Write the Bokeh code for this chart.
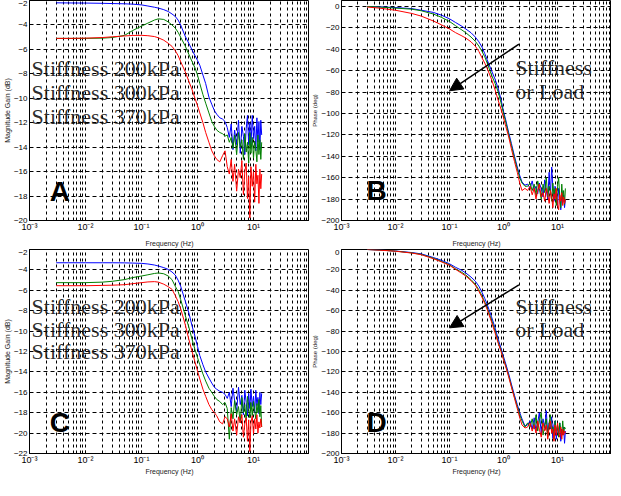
from bokeh.plotting import figure
from bokeh.models import Range1d, FixedTicker, CustomJSTickFormatter, Label, Arrow, NormalHead
from bokeh.layouts import row, column
from bokeh.embed import file_html
from bokeh.resources import INLINE

freq = [0.003, 0.005, 0.01, 0.02, 0.03, 0.05, 0.07, 0.1, 0.13, 0.17, 0.2, 0.25, 0.3, 0.35,
        0.4, 0.45, 0.5, 0.6, 0.7, 0.8, 0.9, 1.0, 1.1, 1.25, 1.4, 1.6, 1.8, 2.0,
        2.2, 2.5, 2.8, 3.1, 3.4, 3.7, 4.0, 4.3, 4.6, 5.0, 5.4, 5.8, 6.2, 6.6, 7.0, 7.4,
        7.8, 8.2, 8.6, 9.0, 9.5, 10.0, 10.5, 11.0, 11.5, 12.0, 12.5, 13.0, 13.5, 14.0]

labels = ["Stiffness 200kPa", "Stiffness 300kPa", "Stiffness 370kPa"]
colors = ["#0000ff", "#008000", "#ff0000"]

# Panel A: magnitude (dB)
mag_a_200 = [-2.19, -2.2, -2.21, -2.23, -2.25, -2.27, -2.3, -2.36, -2.45, -2.55, -2.62, -2.75, -2.9, -3.1,
             -3.3, -3.6, -4.0, -4.9, -5.5, -6.05, -6.5, -6.9, -7.3, -8.1, -8.8, -9.9, -10.5, -11.0,
             -11.3, -11.6, -11.7, -11.9, -12.4, -13.2, -12.1, -14.2, -12.6, -13.8, -11.8, -14.5, -12.3, -13.1, -14.6, -12.5,
             -11.4, -13.8, -12.0, -14.0, -11.4, -13.3, -12.3, -14.3, -11.6, -13.6, -11.9, -14.2, -11.8, -13.0]
mag_a_300 = [-5.1, -5.1, -5.1, -5.08, -5.03, -4.85, -4.45, -4.1, -3.85, -3.6, -3.5, -3.55, -3.75, -4.0,
             -4.25, -4.6, -5.0, -5.7, -6.4, -7.0, -7.5, -8.1, -8.8, -9.7, -10.4, -11.2, -11.9, -12.3,
             -12.6, -12.8, -12.9, -13.1, -13.0, -13.6, -13.2, -14.1, -13.0, -14.6, -12.8, -14.0, -13.4, -15.0, -12.9, -14.4,
             -13.6, -15.3, -12.8, -14.5, -13.2, -14.9, -13.5, -14.2, -15.2, -13.0, -14.6, -13.4, -15.0, -13.6]
mag_a_370 = [-5.1, -5.1, -5.08, -5.03, -4.97, -4.9, -4.86, -4.85, -4.88, -4.95, -5.05, -5.25, -5.5, -5.75,
             -6.1, -6.5, -7.0, -7.8, -8.6, -9.3, -10.0, -10.6, -11.2, -12.0, -12.8, -13.6, -14.3, -14.7,
             -15.0, -15.2, -14.7, -14.3, -15.6, -16.2, -15.0, -16.8, -15.4, -17.6, -15.8, -16.5, -15.1, -17.9, -16.0, -15.3,
             -18.2, -16.4, -19.8, -15.6, -17.2, -16.0, -18.5, -15.4, -17.0, -16.3, -18.6, -15.8, -17.4, -16.2]

# Panel B: phase (deg)
phase_b_200 = [0, -0.3, -1, -2, -3.5, -5.5, -8, -11.5, -15, -18.5, -21, -24.5, -28.5, -33,
               -38, -44, -50, -60, -68, -77, -87, -98, -106, -118, -128, -140, -150, -158,
               -164, -167, -166, -170, -163, -172, -168, -175, -165, -170, -178, -162, -172, -180, -155, -176,
               -150, -170, -182, -168, -175, -186, -170, -178, -190, -172, -183, -176, -188, -180]
phase_b_300 = [0, -0.5, -1.5, -2.5, -4, -7, -10, -14, -18, -22, -24.5, -28.5, -32.5, -37,
               -42, -47, -53, -64, -72, -80, -90, -100, -108, -120, -130, -142, -152, -160,
               -165, -168, -168, -165, -172, -166, -176, -163, -170, -180, -166, -174, -160, -178, -168, -172,
               -182, -165, -176, -170, -186, -168, -160, -178, -188, -166, -180, -172, -185, -170]
phase_b_370 = [-0.5, -1.5, -3.5, -6.5, -9, -13.5, -17, -21, -24.5, -27.5, -29.5, -33, -37, -42,
               -48, -53, -58, -68, -78, -88, -96, -104, -112, -122, -133, -145, -155, -165,
               -172, -170, -172, -168, -176, -170, -180, -172, -166, -178, -174, -182, -170, -176, -184, -172,
               -178, -188, -175, -180, -170, -185, -190, -176, -182, -174, -186, -178, -184, -180]

# Panel C: magnitude (dB)
mag_c_200 = [-3.3, -3.3, -3.3, -3.3, -3.3, -3.31, -3.33, -3.36, -3.42, -3.52, -3.62, -3.78, -3.95, -4.2,
             -4.5, -5.0, -5.6, -7.0, -8.2, -9.5, -10.5, -11.5, -12.4, -13.3, -14.0, -14.6, -15.1, -15.5,
             -15.7, -15.9, -16.0, -16.2, -16.6, -16.0, -17.4, -15.6, -16.8, -17.9, -15.5, -17.2, -16.3, -18.2, -15.8, -17.0,
             -18.3, -16.1, -17.6, -15.7, -17.4, -16.4, -18.0, -15.8, -17.3, -16.5, -18.1, -16.0, -17.2, -16.1]
mag_c_300 = [-5.25, -5.25, -5.25, -5.2, -5.12, -4.95, -4.75, -4.6, -4.48, -4.35, -4.3, -4.38, -4.6, -4.95,
             -5.6, -6.1, -6.9, -8.4, -9.6, -10.8, -11.8, -12.6, -13.3, -14.2, -14.9, -15.6, -16.0, -16.4,
             -16.7, -16.9, -17.2, -17.0, -17.6, -20.6, -17.5, -18.6, -16.8, -18.2, -17.4, -19.0, -16.5, -18.0, -17.2, -18.8,
             -16.4, -17.6, -18.5, -17.0, -18.3, -16.9, -17.8, -18.6, -17.1, -18.0, -16.7, -18.4, -17.3, -19.4]
mag_c_370 = [-5.55, -5.55, -5.55, -5.52, -5.5, -5.45, -5.35, -5.25, -5.18, -5.15, -5.2, -5.4, -5.65, -5.9,
             -6.5, -7.1, -7.8, -9.3, -10.8, -12.0, -13.0, -13.9, -14.7, -15.7, -16.4, -17.2, -17.7, -18.0,
             -18.3, -18.9, -19.1, -18.4, -18.6, -19.4, -18.1, -19.8, -18.6, -20.2, -18.4, -19.0, -18.2, -20.4, -19.1, -18.5,
             -20.8, -18.7, -21.8, -19.0, -18.3, -20.1, -18.6, -19.6, -18.2, -20.0, -18.9, -19.5, -18.6, -19.4]

# Panel D: phase (deg)
phase_d_200 = [0, -0.5, -1.5, -3, -4.3, -7.8, -10.5, -14, -17.5, -20.5, -23, -27, -31, -36,
               -42, -48, -54, -66, -77, -88, -97, -105, -112, -122, -132, -143, -152, -160,
               -166, -173, -172, -168, -176, -165, -178, -170, -160, -180, -166, -175, -158, -182, -170, -176,
               -164, -185, -172, -168, -186, -174, -180, -170, -188, -176, -182, -174, -190, -178]
phase_d_300 = [0, -0.5, -1.6, -3.3, -4.8, -8.5, -11.5, -15, -19, -22.5, -25, -29.5, -34, -39.5,
               -45.5, -51.5, -57.5, -69, -80, -91, -99, -107, -114, -124, -134, -145, -154, -162,
               -168, -174, -170, -174, -166, -176, -162, -178, -168, -160, -182, -172, -166, -184, -170, -162,
               -180, -174, -186, -168, -178, -172, -184, -170, -176, -182, -168, -180, -174, -176]
phase_d_370 = [0, -0.6, -1.7, -3.5, -5.1, -9, -12, -15.5, -19.5, -23.5, -26, -30.5, -35, -41,
               -47, -53, -59, -71, -82, -92, -100, -108, -115, -125, -135, -146, -156, -165,
               -172, -175, -174, -170, -178, -172, -180, -168, -176, -184, -170, -178, -172, -186, -174, -168,
               -180, -176, -188, -172, -182, -170, -178, -184, -174, -186, -176, -182, -178, -180]

x_major = [1e-3, 1e-2, 1e-1, 1e0, 1e1, 1e2]
x_minor = [k * 10.0 ** e for e in range(-3, 2) for k in range(2, 10)]

FMT = CustomJSTickFormatter(code="""
const e = Math.round(Math.log10(tick));
if (e >= 2) { return ""; }
const sup = {"-": "\u207b", "0": "\u2070", "1": "\u00b9", "2": "\u00b2", "3": "\u00b3"};
return "10" + String(e).split("").map(c => sup[c]).join("");
""")

SANS = "Liberation Sans"
SERIF = "Liberation Serif"


def panel(fw, fh, yr, yticks, bl, ylabel, xlabel, xlabel_standoff):
    p = figure(frame_width=fw, frame_height=fh, x_axis_type="log",
               x_range=Range1d(1e-3, 1e2), y_range=Range1d(*yr),
               output_backend="svg", toolbar_location=None,
               min_border_left=bl, min_border_top=0, min_border_bottom=0, min_border_right=0)
    p.outline_line_color = "black"
    p.outline_line_alpha = 1
    p.outline_line_width = 1
    p.background_fill_color = "white"
    p.border_fill_color = "white"
    p.xaxis.ticker = FixedTicker(ticks=x_major, minor_ticks=x_minor)
    p.xaxis.formatter = FMT
    p.yaxis.ticker = FixedTicker(ticks=yticks)
    for ax in (p.xaxis[0], p.yaxis[0]):
        ax.major_tick_in = 3
        ax.major_tick_out = 0
        ax.minor_tick_in = 2
        ax.minor_tick_out = 0
        ax.major_label_standoff = 2
        ax.axis_line_color = "black"
        ax.major_tick_line_color = "black"
        ax.major_label_text_font = SANS
        ax.major_label_text_color = "black"
        ax.axis_label_text_font = SANS
        ax.axis_label_text_font_style = "normal"
        ax.axis_label_text_font_size = "7px"
        ax.axis_label_text_color = "#222"
        ax.axis_label_standoff = 0
    p.xaxis.major_label_standoff = 1
    p.xaxis.axis_label_standoff = xlabel_standoff
    p.yaxis.minor_tick_line_color = None
    p.xaxis.major_label_text_font_size = "9px"
    p.yaxis.major_label_text_font_size = "8px"
    p.xaxis.axis_label = xlabel
    p.yaxis.axis_label = ylabel
    p.xgrid.grid_line_color = "black"
    p.xgrid.grid_line_alpha = 1
    p.xgrid.grid_line_dash = "3 3"
    p.xgrid.minor_grid_line_color = "black"
    p.xgrid.minor_grid_line_alpha = 1
    p.xgrid.minor_grid_line_dash = "3 3"
    p.ygrid.grid_line_color = "black"
    p.ygrid.grid_line_alpha = 1
    p.ygrid.grid_line_dash = "4 3"
    return p


def letter(p, text, x, y):
    p.add_layout(Label(x=x, y=y, text=text, text_font=SANS, text_font_style="bold",
                       text_font_size="28px", text_color="black", text_baseline="middle"))


def stiff_labels(p, ys):
    for t, y in zip(labels, ys):
        p.add_layout(Label(x=0.00109, y=y, text=t, text_font=SERIF, text_font_size="22px",
                           text_color="#111", text_alpha=0.9, text_baseline="middle"))


def arrow_note(p, y1, y2, ys, ye):
    p.add_layout(Label(x=1.65, y=y1, text="Stiffness", text_font=SERIF, text_font_size="22px",
                       text_color="#111", text_alpha=0.9, text_baseline="middle"))
    p.add_layout(Label(x=1.65, y=y2, text="or Load", text_font=SERIF, text_font_size="22px",
                       text_color="#111", text_alpha=0.9, text_baseline="middle"))
    p.add_layout(Arrow(end=NormalHead(size=13, fill_color="black", line_color="black"),
                       x_start=1.93, y_start=ys, x_end=0.1, y_end=ye,
                       line_color="black", line_width=1.5))


mag_ticks_a = list(range(-20, -1, 2))
mag_ticks_c = list(range(-22, -1, 2))
phase_ticks = list(range(-200, 1, 20))

pA = panel(280, 220, (-20, -2), mag_ticks_a, 27, "Magnitude Gain (dB)", "Frequency (Hz)", 5)
for ys, c in zip([mag_a_200, mag_a_300, mag_a_370], colors):
    pA.line(freq, ys, line_color=c, line_width=1)
stiff_labels(pA, [-7.6, -9.54, -11.49])
letter(pA, "A", 0.0023, -17.65)

pB = panel(270, 220, (-200, 5.6), phase_ticks, 28, "Phase (deg)", "Frequency (Hz)", 5)
pB.yaxis.axis_label_text_font_size = "6px"
for ys, c in zip([phase_b_200, phase_b_300, phase_b_370], colors):
    pB.line(freq, ys, line_color=c, line_width=1)
arrow_note(pB, -57, -79.4, -35.2, -78.8)
letter(pB, "B", 0.0029, -171.5)

pC = panel(280, 204, (-22, -2), mag_ticks_c, 27, "Magnitude Gain (dB)", "Frequency (Hz)", 0)
for ys, c in zip([mag_c_200, mag_c_300, mag_c_370], colors):
    pC.line(freq, ys, line_color=c, line_width=1)
stiff_labels(pC, [-7.55, -9.8, -12.0])
letter(pC, "C", 0.0023, -18.97)

pD = panel(270, 204, (-200, 0), phase_ticks, 28, "Phase (deg)", "Frequency (Hz)", 0)
pD.yaxis.axis_label_text_font_size = "6px"
for ys, c in zip([phase_d_200, phase_d_300, phase_d_370], colors):
    pD.line(freq, ys, line_color=c, line_width=1)
arrow_note(pD, -55.5, -78, -34.6, -76.8)
letter(pD, "D", 0.0029, -169.7)

layout = column(row(pA, pB), row(pC, pD))
open("out.html", "w").write(file_html(layout, INLINE))
